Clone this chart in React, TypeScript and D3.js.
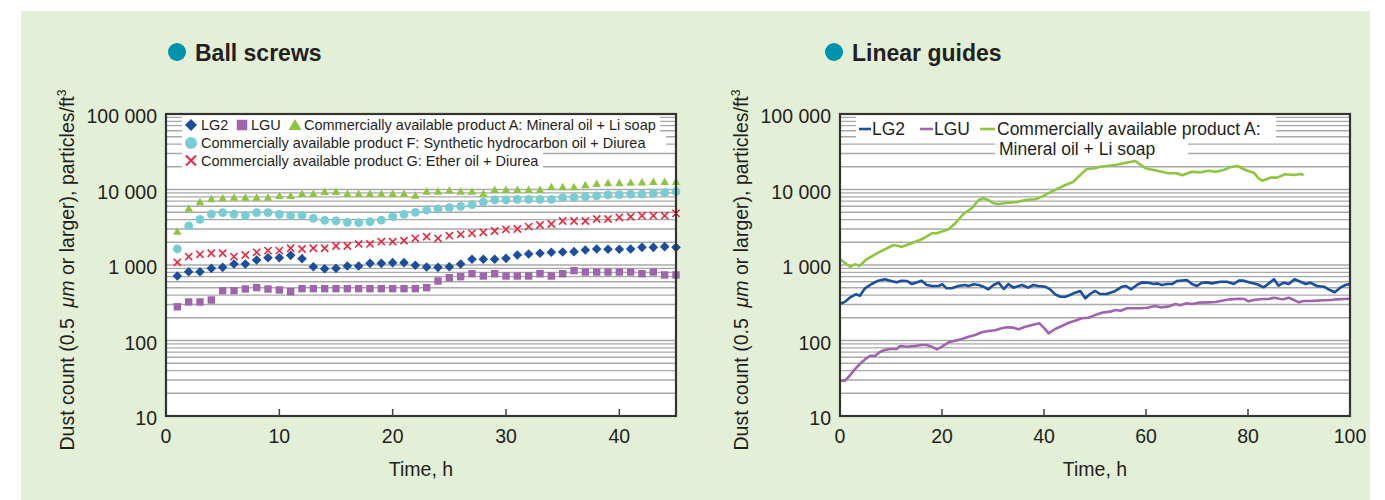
import React from 'react';
import * as d3 from 'd3';

const FONT = '"Liberation Sans", Arial, Helvetica, sans-serif';
const TEXT = '#231f20';
const BG = '#e3efd6';
const GRID = '#a9a9a9';

// ---------- Ball screws (left) ----------
const bsHours = [1, 2, 3, 4, 5, 6, 7, 8, 9, 10, 11, 12, 13, 14, 15, 16, 17, 18, 19, 20, 21, 22, 23, 24, 25, 26, 27, 28, 29, 30, 31, 32, 33, 34, 35, 36, 37, 38, 39, 40, 41, 42, 43, 44, 45];
const bsLG2 = [715, 815, 815, 903, 931, 1030, 1030, 1164, 1250, 1250, 1343, 1213, 950, 893, 903, 970, 970, 1052, 1052, 1074, 1074, 991, 942, 931, 950, 1030, 1189, 1189, 1189, 1225, 1357, 1398, 1430, 1473, 1487, 1502, 1580, 1630, 1614, 1614, 1630, 1714, 1714, 1750, 1714];
const bsLGU = [280, 324, 324, 344, 457, 457, 481, 501, 481, 467, 443, 486, 486, 486, 486, 486, 486, 486, 486, 486, 486, 486, 501, 614, 679, 700, 767, 715, 767, 715, 715, 715, 767, 715, 767, 841, 807, 807, 807, 807, 807, 767, 807, 738, 738];
const bsProdA = [2760, 5570, 6770, 7420, 7650, 7800, 7800, 7800, 7800, 8200, 8200, 8710, 8710, 9270, 9270, 8710, 8710, 8710, 8710, 8710, 8710, 8280, 9350, 9350, 9640, 9350, 9350, 8710, 9840, 9840, 9840, 9840, 9840, 10690, 10690, 10690, 11370, 11830, 12090, 12090, 12300, 12400, 12570, 12570, 12570];
const bsProdF = [1630, 3290, 4030, 4730, 4930, 4730, 4550, 4930, 4930, 4690, 4500, 4550, 4150, 3910, 3830, 3670, 3630, 3750, 3940, 4360, 4690, 4990, 5350, 5520, 5740, 5980, 6290, 6830, 7260, 7260, 7410, 7410, 7410, 7410, 7800, 7870, 8040, 8200, 8460, 8550, 8710, 8710, 8910, 9080, 9350];
const bsProdG = [1085, 1290, 1385, 1430, 1430, 1290, 1357, 1473, 1550, 1550, 1665, 1630, 1665, 1665, 1786, 1786, 1900, 1900, 2037, 2037, 2100, 2256, 2370, 2256, 2445, 2550, 2630, 2710, 2820, 2970, 3000, 3220, 3390, 3495, 3830, 3830, 3830, 4065, 4065, 4280, 4360, 4500, 4500, 4500, 4830];

// ---------- Linear guides (right) ----------
const lgAHours = [0, 2.0, 2.9, 3.9, 5.2, 7.5, 10.5, 12.1, 13.7, 16.0, 18.0, 19.0, 21.3, 22.6, 24.2, 25.8, 27.2, 28.1, 29.1, 30.1, 31.1, 33.0, 34.6, 36.3, 38.3, 39.6, 41.5, 44.2, 45.8, 47.1, 48.4, 50.0, 51.0, 54.0, 55.6, 57.9, 59.9, 62.2, 64.4, 66.1, 67.1, 69.0, 70.7, 72.3, 73.6, 75.2, 76.5, 77.9, 79.5, 81.1, 82.1, 82.8, 84.4, 85.7, 87.3, 89.0, 90.3, 90.9];
const lgAValues = [1190, 950, 1020, 980, 1190, 1455, 1840, 1750, 1900, 2190, 2630, 2630, 2970, 3565, 4735, 5630, 7260, 7650, 7260, 6560, 6430, 6690, 6790, 7260, 7420, 8040, 9350, 11480, 12690, 15560, 18700, 19100, 20040, 21100, 22250, 23870, 19100, 17750, 16400, 16400, 15420, 17200, 16880, 17750, 17200, 18130, 19660, 20480, 18130, 16700, 14060, 13090, 14350, 14350, 15890, 15560, 16040, 15560];

const lgLG2Hours = [0, 1.0, 2.0, 3.1, 3.9, 4.9, 6.2, 7.5, 8.8, 9.8, 11.1, 12.1, 13.1, 14.1, 16.0, 17.0, 18.0, 19.3, 20.1, 20.9, 21.9, 23.2, 24.5, 25.2, 26.2, 27.2, 28.1, 29.1, 30.1, 31.1, 32.1, 33.0, 34.0, 35.7, 36.9, 37.9, 38.9, 40.2, 41.2, 42.2, 43.2, 44.2, 45.1, 46.1, 47.1, 48.1, 49.1, 50.0, 51.0, 52.3, 54.0, 55.3, 56.1, 57.1, 58.2, 59.2, 60.5, 61.5, 62.2, 63.1, 64.1, 65.1, 66.1, 68.0, 69.0, 70.0, 71.0, 71.9, 72.9, 74.6, 75.9, 77.2, 78.2, 79.2, 80.5, 81.8, 83.1, 84.1, 85.1, 86.0, 87.0, 88.0, 89.1, 90.3, 91.3, 92.2, 93.5, 94.9, 95.8, 97.0, 98.1, 99.1, 100];
const lgLG2Values = [304, 327, 373, 409, 392, 491, 560, 620, 646, 620, 589, 620, 614, 560, 620, 543, 527, 527, 555, 491, 491, 527, 543, 527, 555, 543, 516, 476, 543, 583, 481, 560, 501, 543, 501, 543, 527, 516, 476, 409, 380, 380, 401, 430, 453, 362, 416, 453, 413, 413, 453, 516, 527, 476, 543, 589, 583, 560, 571, 543, 560, 560, 614, 633, 560, 527, 583, 589, 571, 601, 601, 560, 620, 620, 583, 555, 506, 571, 646, 532, 583, 560, 646, 601, 560, 583, 527, 516, 476, 435, 501, 543, 560];

const lgLGUHours = [0, 1.0, 2.0, 2.9, 3.9, 4.9, 5.9, 6.9, 7.9, 8.8, 9.8, 11.1, 11.8, 13.1, 14.7, 16.0, 17.0, 18.0, 19.0, 20.0, 21.3, 22.6, 23.9, 25.2, 26.5, 27.8, 29.1, 30.4, 31.7, 32.7, 34.0, 35.0, 36.0, 36.9, 38.3, 39.1, 40.1, 40.9, 42.2, 43.5, 44.8, 46.1, 47.4, 48.7, 50.0, 51.7, 53.0, 54.0, 55.0, 56.3, 57.6, 58.9, 60.2, 61.8, 62.8, 64.4, 65.8, 66.7, 68.0, 69.0, 70.3, 72.0, 73.6, 74.9, 76.5, 78.2, 79.2, 80.1, 81.1, 82.8, 84.1, 85.1, 86.4, 87.0, 88.0, 89.0, 90.0, 90.9, 92.2, 93.6, 94.9, 96.2, 97.5, 98.8, 100];
const lgLGUValues = [29.4, 29.4, 34.9, 41.5, 48.8, 56.3, 62.9, 62.9, 71.1, 74.8, 77.1, 77.1, 84.6, 82.8, 84.6, 87.1, 87.1, 82.8, 76.4, 82.8, 94.6, 99.5, 104.7, 112.4, 118.3, 128.3, 133.6, 136.4, 145, 149.4, 147.9, 140.6, 149.4, 155.6, 163.7, 168.7, 145, 124.5, 142, 155.6, 172, 183, 196.7, 200, 217, 236, 241, 253, 248, 267, 267, 267, 272, 286, 275, 281, 304, 292, 311, 304, 317, 320, 324, 337, 351, 358, 355, 330, 344, 355, 355, 369, 355, 351, 369, 344, 320, 334, 334, 337, 341, 344, 351, 355, 358];

const yTickValues = [10, 100, 1000, 10000, 100000];
const yTickLabels = ['10', '100', '1 000', '10 000', '100 000'];
const bsXTicks = [0, 10, 20, 30, 40];
const lgXTicks = [0, 20, 40, 60, 80, 100];

const COL_BLUE = '#1a4e9e';
const COL_PURPLE = '#a064ad';
const COL_GREEN = '#8cc63f';
const COL_CYAN = '#76cdd4';
const COL_RED = '#e8283e';
const COL_BULLET = '#0093ad';

const TOP = 114;
const BOTTOM = 416;

const diamond = (r: number) => `M0,${-r}L${r},0L0,${r}L${-r},0Z`;
const square = (s: number) => `M${-s / 2},${-s / 2}h${s}v${s}h${-s}Z`;
const triangle = (w: number, h: number) => `M0,${-h * 0.6}L${w / 2},${h * 0.4}L${-w / 2},${h * 0.4}Z`;
const cross = (a: number) => `M${-a},${-a}L${a},${a}M${a},${-a}L${-a},${a}`;

function Frame({ x0, x1, y }: any) {
  const gridVals = y.ticks();
  return (
    <g>
      <rect x={x0} y={TOP} width={x1 - x0} height={BOTTOM - TOP} fill="#fff" />
      {gridVals.map((v: number, i: number) => (
        <line key={i} x1={x0} x2={x1} y1={y(v)} y2={y(v)} stroke={GRID} strokeWidth={1.3} />
      ))}
    </g>
  );
}

function Axes({ x0, x1, xTicks, x, y, cx }: any) {
  return (
    <g fontFamily={FONT} fill={TEXT}>
      <rect x={x0} y={TOP} width={x1 - x0} height={BOTTOM - TOP} fill="none" stroke="#333" strokeWidth={2.2} />
      {xTicks.map((t: number, i: number) => (
        <g key={i}>
          {t !== xTicks[0] && (
            <line x1={x(t)} x2={x(t)} y1={BOTTOM} y2={BOTTOM - 7} stroke="#444" strokeWidth={1.5} />
          )}
          <text x={x(t)} y={443} textAnchor="middle" fontSize={19.5}>{t}</text>
        </g>
      ))}
      {yTickValues.map((v, i) => (
        <text key={i} x={x0 - 9} y={y(v) + 9} textAnchor="end" fontSize={19.5}>{yTickLabels[i]}</text>
      ))}
      <text x={cx} y={476} textAnchor="middle" fontSize={19.5}>Time, h</text>
      <text transform={`translate(${x0 - 92},270) rotate(-90)`} textAnchor="middle" fontSize={19.5}>
        Dust count (0.5{'\u00a0\u00a0'}<tspan fontStyle="italic">μm</tspan> or larger), particles/ft<tspan fontSize={12} dy={-8}>3</tspan>
      </text>
    </g>
  );
}

export default function App() {
  const xL = d3.scaleLinear().domain([0, 45]).range([166, 676]);
  const xR = d3.scaleLinear().domain([0, 100]).range([840, 1350]);
  const y = d3.scaleLog().domain([10, 100000]).range([BOTTOM, TOP]);

  const lineGen = (hours: number[], vals: number[]) =>
    d3.line<number>().x((_, i) => xR(hours[i])).y((v) => y(v))(vals) || '';

  return (
    <div style={{ position: 'absolute', left: 0, top: 0 }}>
      <svg width={1385} height={500} style={{ display: 'block' }}>
        <rect x={0} y={0} width={1385} height={500} fill="#fff" />
        <rect x={21} y={11} width={1349} height={489} fill={BG} />

        {/* Titles */}
        <circle cx={177} cy={52} r={9} fill={COL_BULLET} />
        <text x={195} y={61} fontFamily={FONT} fontWeight="bold" fontSize={23} fill={TEXT}>Ball screws</text>
        <circle cx={834} cy={52} r={9} fill={COL_BULLET} />
        <text x={852} y={61} fontFamily={FONT} fontWeight="bold" fontSize={23} fill={TEXT}>Linear guides</text>

        {/* Left plot */}
        <Frame x0={166} x1={676} y={y} />
        <rect x={182} y={115} width={478} height={19} fill="#fff" />
        <rect x={182} y={134} width={484} height={18} fill="#fff" />
        <rect x={182} y={152} width={361} height={17} fill="#fff" />

        <g>
          {bsProdA.map((v, i) => (
            <path key={'a' + i} d={triangle(8.5, 7.5)} transform={`translate(${xL(bsHours[i])},${y(v)})`} fill={COL_GREEN} />
          ))}
          {bsProdF.map((v, i) => (
            <circle key={'f' + i} cx={xL(bsHours[i])} cy={y(v)} r={4.4} fill={COL_CYAN} />
          ))}
          {bsProdG.map((v, i) => (
            <path key={'g' + i} d={cross(3.6)} transform={`translate(${xL(bsHours[i])},${y(v)})`} stroke={COL_RED} strokeWidth={1.6} fill="none" />
          ))}
          {bsLG2.map((v, i) => (
            <path key={'b' + i} d={diamond(4.8)} transform={`translate(${xL(bsHours[i])},${y(v)})`} fill={COL_BLUE} />
          ))}
          {bsLGU.map((v, i) => (
            <path key={'u' + i} d={square(7.4)} transform={`translate(${xL(bsHours[i])},${y(v)})`} fill={COL_PURPLE} />
          ))}
        </g>

        <g fontFamily={FONT} fontSize={14.5} fill={TEXT}>
          <path d={diamond(6)} transform="translate(191,125)" fill={COL_BLUE} />
          <text x={201} y={130}>LG2</text>
          <path d={square(10.5)} transform="translate(242,125)" fill={COL_PURPLE} />
          <text x={251} y={130}>LGU</text>
          <path d={triangle(13, 11)} transform="translate(295,125.5)" fill={COL_GREEN} />
          <text x={304} y={130}>Commercially available product A: Mineral oil + Li soap</text>
          <circle cx={191} cy={143} r={6} fill={COL_CYAN} />
          <text x={201} y={148.3}>Commercially available product F: Synthetic hydrocarbon oil + Diurea</text>
          <path d={cross(5)} transform="translate(191,160.5)" stroke={COL_RED} strokeWidth={2} fill="none" />
          <text x={201} y={166}>Commercially available product G: Ether oil + Diurea</text>
        </g>
        <Axes x0={166} x1={676} xTicks={bsXTicks} x={xL} y={y} cx={421} />

        {/* Right plot */}
        <Frame x0={840} x1={1350} y={y} />
        <rect x={856} y={115} width={420} height={24} fill="#fff" />
        <rect x={995} y={139} width={193} height={20} fill="#fff" />
        <g fill="none" strokeWidth={2.6} strokeLinejoin="round">
          <path d={lineGen(lgAHours, lgAValues)} stroke={COL_GREEN} />
          <path d={lineGen(lgLGUHours, lgLGUValues)} stroke={COL_PURPLE} />
          <path d={lineGen(lgLG2Hours, lgLG2Values)} stroke={COL_BLUE} />
        </g>
        <g fontFamily={FONT} fontSize={17.5} fill={TEXT}>
          <line x1={859} x2={871} y1={129} y2={129} stroke={COL_BLUE} strokeWidth={2.6} />
          <text x={872} y={135}>LG2</text>
          <line x1={920} x2={933} y1={129} y2={129} stroke={COL_PURPLE} strokeWidth={2.6} />
          <text x={934} y={135}>LGU</text>
          <line x1={980} x2={995} y1={129} y2={129} stroke={COL_GREEN} strokeWidth={2.6} />
          <text x={997} y={135}>Commercially available product A:</text>
          <text x={999} y={154.5}>Mineral oil + Li soap</text>
        </g>
        <Axes x0={840} x1={1350} xTicks={lgXTicks} x={xR} y={y} cx={1095} />
      </svg>
    </div>
  );
}
